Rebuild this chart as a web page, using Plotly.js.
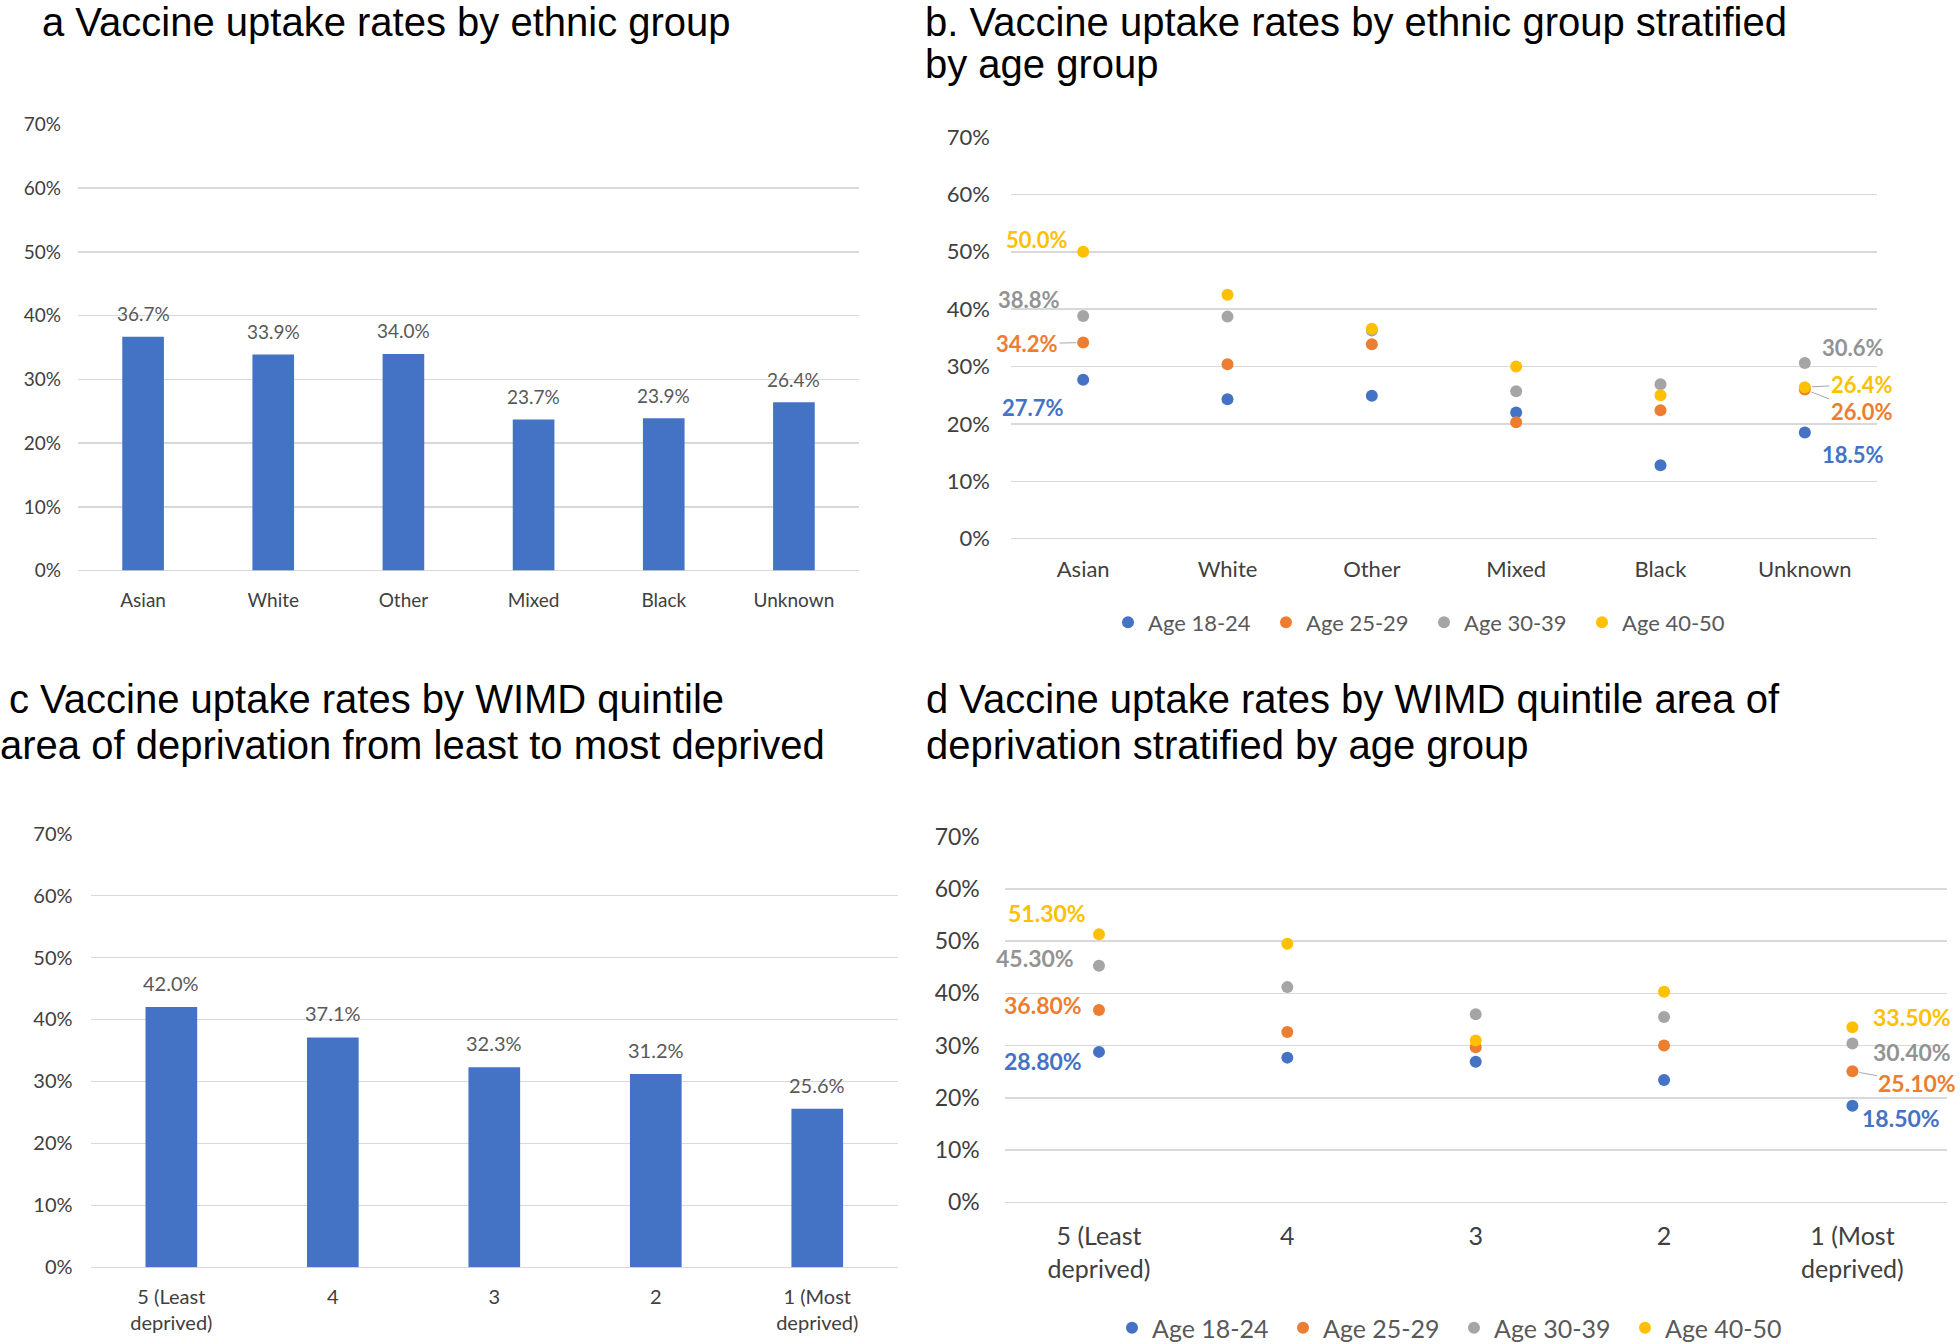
<!DOCTYPE html>
<html><head><meta charset="utf-8">
<script src="https://cdn.plot.ly/plotly-3.0.1.min.js"></script>
<style>html,body{margin:0;padding:0;background:#fff;} #chart{width:1960px;height:1344px;}</style>
</head><body><div id="chart"></div>
<script>
// ---------- DATA ----------
// Panel a
const ethnicGroups = ['Asian','White','Other','Mixed','Black','Unknown'];
const ethnicUptake = [36.7, 33.9, 34.0, 23.7, 23.9, 26.4];
// Panel b
const ageGroups = ['Age 18-24','Age 25-29','Age 30-39','Age 40-50'];
const ethnicAge18_24 = [27.7, 24.3, 24.9, 22.0, 12.8, 18.5];
const ethnicAge25_29 = [34.2, 30.4, 33.9, 20.3, 22.4, 26.0];
const ethnicAge30_39 = [38.8, 38.7, 36.3, 25.7, 26.9, 30.6];
const ethnicAge40_50 = [50.0, 42.5, 36.6, 30.0, 25.0, 26.4];
// Panel c
const wimdQuintiles = ['5 (Least<br>deprived)','4','3','2','1 (Most<br>deprived)'];
const wimdUptake = [42.0, 37.1, 32.3, 31.2, 25.6];
// Panel d
const wimdAge18_24 = [28.8, 27.7, 26.9, 23.4, 18.5];
const wimdAge25_29 = [36.8, 32.6, 29.7, 30.0, 25.1];
const wimdAge30_39 = [45.3, 41.2, 36.0, 35.5, 30.4];
const wimdAge40_50 = [51.3, 49.5, 31.0, 40.3, 33.5];
// Titles
const titleA = ['a Vaccine uptake rates by ethnic group'];
const titleB = ['b. Vaccine uptake rates by ethnic group stratified', 'by age group'];
const titleC = ['c Vaccine uptake rates by WIMD quintile', 'area of deprivation from least to most deprived'];
const titleD = ['d Vaccine uptake rates by WIMD quintile area of', 'deprivation stratified by age group'];

// ---------- STYLE ----------
const W = 1960, H = 1344;
const px = v => v / W;
const py = v => 1 - v / H;
const seriesColors = ['#4472C4', '#ED7D31', '#A5A5A5', '#FFC000'];
const labelColors  = ['#4472C4', '#ED7D31', '#939393', '#FFC000'];
const barColor = '#4472C4';
const gridColor = '#D9D9D9';
const sans = 'Lato, "Open Sans", sans-serif';
const titleFont = {family: '"Liberation Sans", Arial, sans-serif', size: 40, color: '#000000'};

function yAxis(domain, anchor, size, standoff) {
  return {domain, anchor, range: [0, 70], dtick: 10, ticksuffix: '%',
    showgrid: true, gridcolor: gridColor, gridwidth: 1.5,
    zeroline: true, zerolinecolor: gridColor, zerolinewidth: 1.5,
    showline: false, ticks: '', ticklabelstandoff: standoff,
    tickfont: {family: sans, size, color: '#404040'}, fixedrange: true};
}
function xAxis(domain, anchor, n, size, standoff) {
  return {domain, anchor, type: 'category', range: [-0.5, n - 0.5],
    showgrid: false, zeroline: false, showline: false, ticks: '',
    ticklabelstandoff: standoff,
    tickfont: {family: sans, size, color: '#404040'}, fixedrange: true};
}

const ethnicSeries = [ethnicAge18_24, ethnicAge25_29, ethnicAge30_39, ethnicAge40_50];
const wimdSeries = [wimdAge18_24, wimdAge25_29, wimdAge30_39, wimdAge40_50];

const traces = [];
traces.push({type: 'bar', x: ethnicGroups, y: ethnicUptake, xaxis: 'x', yaxis: 'y',
  marker: {color: barColor}, showlegend: false, hoverinfo: 'skip'});
traces.push({type: 'bar', x: wimdQuintiles, y: wimdUptake, xaxis: 'x3', yaxis: 'y3',
  marker: {color: barColor}, showlegend: false, hoverinfo: 'skip'});
ethnicSeries.forEach((s, k) => traces.push({type: 'scatter', mode: 'markers', x: ethnicGroups, y: s,
  xaxis: 'x2', yaxis: 'y2', name: ageGroups[k], legend: 'legend',
  marker: {color: seriesColors[k], size: 12}, cliponaxis: false, hoverinfo: 'skip'}));
wimdSeries.forEach((s, k) => traces.push({type: 'scatter', mode: 'markers', x: wimdQuintiles, y: s,
  xaxis: 'x4', yaxis: 'y4', name: ageGroups[k], legend: 'legend2',
  marker: {color: seriesColors[k], size: 12}, cliponaxis: false, hoverinfo: 'skip'}));

const annotations = [];
// titles
function addTitle(lines, xs, ys) {
  lines.forEach((t, i) => annotations.push({text: t, xref: 'paper', yref: 'paper',
    x: px(xs[i]), y: py(ys[i]), xanchor: 'left', yanchor: 'middle', showarrow: false, font: titleFont}));
}
addTitle(titleA, [40], [22]);
addTitle(titleB, [923, 923], [22, 64]);
addTitle(titleC, [7, -2], [699, 745]);
addTitle(titleD, [924, 924], [699, 745]);

// bar value labels (x given as category index)
function addBarLabels(cats, vals, xr, yr, size, shift) {
  cats.forEach((c, i) => annotations.push({text: vals[i].toFixed(1) + '%', x: i, y: vals[i],
    xref: xr, yref: yr, yanchor: 'middle', yshift: shift, showarrow: false,
    font: {family: sans, size, color: '#595959'}}));
}
addBarLabels(ethnicGroups, ethnicUptake, 'x', 'y', 19, 23);
addBarLabels(wimdQuintiles, wimdUptake, 'x3', 'y3', 20, 24);

// scatter data labels (offsets in px; dy positive = downward)
const ethnicLabelPlacement = [
  {s: 3, i: 0, dx: -46, dy: -12}, {s: 2, i: 0, dx: -54, dy: -17},
  {s: 1, i: 0, dx: -56, dy: 1.5, arrow: true}, {s: 0, i: 0, dx: -50, dy: 28},
  {s: 2, i: 5, dx: 48, dy: -16}, {s: 3, i: 5, dx: 57, dy: -3, arrow: true},
  {s: 1, i: 5, dx: 57, dy: 22, arrow: true}, {s: 0, i: 5, dx: 48, dy: 22}];
const wimdLabelPlacement = [
  {s: 3, i: 0, dx: -52, dy: -21}, {s: 2, i: 0, dx: -64, dy: -8},
  {s: 1, i: 0, dx: -56, dy: -5}, {s: 0, i: 0, dx: -56, dy: 9},
  {s: 3, i: 4, dx: 60, dy: -10}, {s: 2, i: 4, dx: 60, dy: 8},
  {s: 1, i: 4, dx: 65, dy: 12, arrow: true}, {s: 0, i: 4, dx: 49, dy: 12}];
function addPointLabels(place, series, xr, yr, digits, size) {
  place.forEach(p => {
    const v = series[p.s][p.i];
    const a = {text: '<b>' + v.toFixed(digits) + '%</b>', x: p.i, y: v, xref: xr, yref: yr,
      font: {family: sans, size, color: labelColors[p.s]}};
    if (p.arrow) {
      Object.assign(a, {showarrow: true, ax: p.dx, ay: p.dy, arrowhead: 0, arrowwidth: 1,
        arrowcolor: '#A6A6A6', standoff: 7});
    } else {
      Object.assign(a, {showarrow: false, xshift: p.dx, yshift: -p.dy});
    }
    annotations.push(a);
  });
}
addPointLabels(ethnicLabelPlacement, ethnicSeries, 'x2', 'y2', 1, 22);
addPointLabels(wimdLabelPlacement, wimdSeries, 'x4', 'y4', 2, 23);

const layout = {
  width: W, height: H, margin: {l: 0, r: 0, t: 0, b: 0, autoexpand: false},
  paper_bgcolor: '#ffffff', plot_bgcolor: '#ffffff',
  bargap: 0.68,
  xaxis: xAxis([px(78), px(859)], 'y', 6, 19, 16),
  yaxis: yAxis([py(570.6), py(124.5)], 'x', 19, 16),
  xaxis2: xAxis([px(1011), px(1877)], 'y2', 6, 22, 15),
  yaxis2: yAxis([py(538.7), py(137)], 'x2', 22, 20),
  xaxis3: xAxis([px(90.6), px(898)], 'y3', 5, 20, 16),
  yaxis3: yAxis([py(1267.3), py(833.6)], 'x3', 20, 17),
  xaxis4: xAxis([px(1004.8), px(1946.6)], 'y4', 5, 25, 17),
  yaxis4: yAxis([py(1202.3), py(836.7)], 'x4', 23, 24),
  legend: {orientation: 'h', x: px(1133 - 25), y: py(622.5), xanchor: 'left', yanchor: 'middle',
    font: {family: sans, size: 22, color: '#595959'}, bgcolor: 'rgba(0,0,0,0)',
    entrywidth: 113, entrywidthmode: 'pixels', traceorder: 'normal'},
  legend2: {orientation: 'h', x: px(1137 - 25), y: py(1328), xanchor: 'left', yanchor: 'middle',
    font: {family: sans, size: 25, color: '#595959'}, bgcolor: 'rgba(0,0,0,0)',
    entrywidth: 126, entrywidthmode: 'pixels', traceorder: 'normal'},
  annotations,
  showlegend: true
};
Plotly.newPlot('chart', traces, layout, {staticPlot: true, displayModeBar: false});
</script></body></html>
